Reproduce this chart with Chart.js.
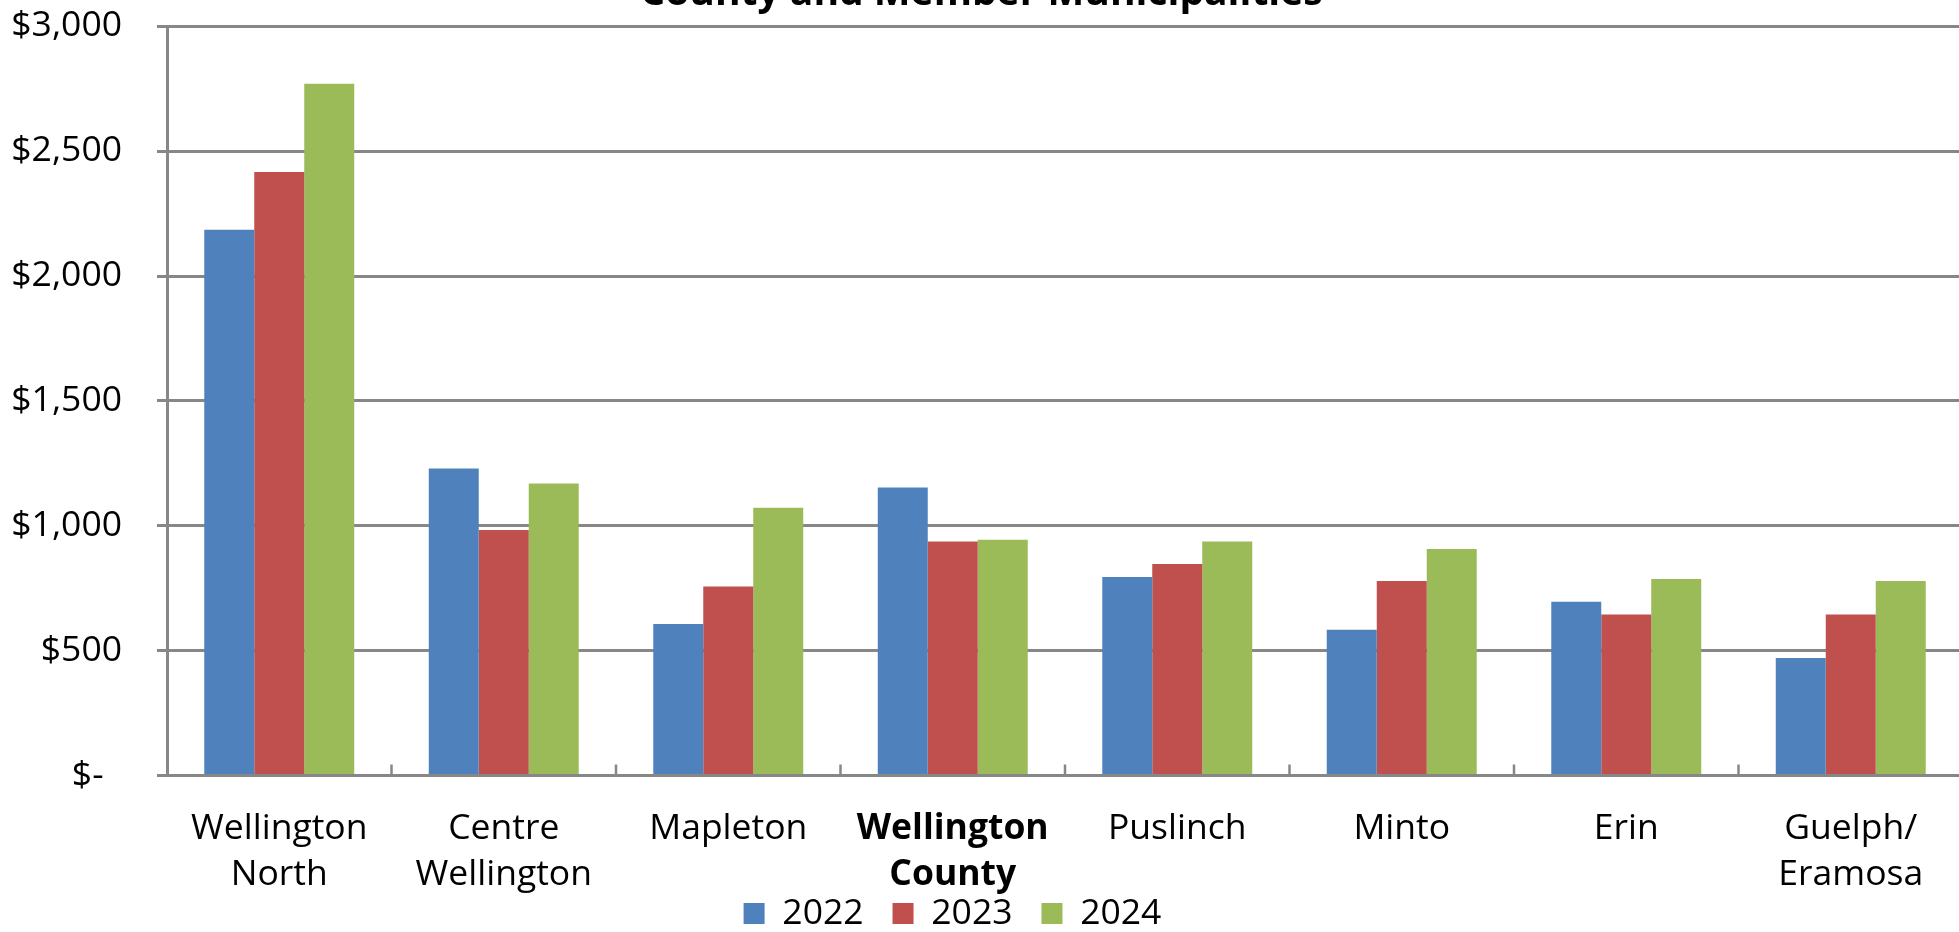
<!DOCTYPE html>
<html>
<head>
<meta charset="utf-8">
<script src="https://cdn.jsdelivr.net/npm/chart.js@4/dist/chart.umd.min.js"></script>
<style>
  html, body { margin: 0; padding: 0; background: #ffffff; overflow: hidden; width: 1959px; height: 932px; }
  #wrap { position: absolute; left: 0; top: -30px; width: 1968px; height: 1010px; }
</style>
</head>
<body>
<div id="wrap"><canvas id="chart" width="1968" height="1010"></canvas></div>
<script>
// Municipalities compared, one group of bars per category
const categories = [
  ['Wellington', 'North'],
  ['Centre', 'Wellington'],
  'Mapleton',
  ['Wellington', 'County'],
  'Puslinch',
  'Minto',
  'Erin',
  ['Guelph/', 'Eramosa']
];

// Yearly amounts in dollars
const years = ['2022', '2023', '2024'];
const values2022 = [2185, 1229, 607, 1153, 795, 584, 696, 471];
const values2023 = [2417, 983, 757, 937, 847, 779, 645, 645];
const values2024 = [2770, 1169, 1072, 944, 937, 907, 787, 779];

// Value axis ticks
const yTicks = [0, 500, 1000, 1500, 2000, 2500, 3000];

const boldCategoryIndex = 3;
const titleText = 'County and Member Municipalities';

const seriesColors = ['#4F81BD', '#C0504D', '#9BBB59'];
const axisGray = '#878787';
const FONT = '"Open Sans", "DejaVu Sans", sans-serif';
const LABEL_SIZE = 35.5;

// Small upward tick marks on the category axis, between groups
const innerCategoryTicks = {
  id: 'innerCategoryTicks',
  afterDatasetsDraw(chart) {
    const x = chart.scales.x;
    const ctx = chart.ctx;
    ctx.save();
    ctx.strokeStyle = axisGray;
    ctx.lineWidth = 2.5;
    for (let i = 1; i < categories.length; i++) {
      const px = (x.getPixelForValue(i - 1) + x.getPixelForValue(i)) / 2;
      ctx.beginPath();
      ctx.moveTo(px, x.top - 11);
      ctx.lineTo(px, x.top);
      ctx.stroke();
    }
    ctx.restore();
  }
};

// Tuck the legend row up under the category labels, slightly left of centre
const legendOffset = {
  id: 'legendOffset',
  afterLayout(chart) {
    const dx = -29, dy = -38.75;
    const lg = chart.legend;
    if (lg) {
      lg.left += dx; lg.right += dx;
      lg.top += dy; lg.bottom += dy;
    }
  }
};

new Chart(document.getElementById('chart'), {
  type: 'bar',
  data: {
    labels: categories,
    datasets: [
      { label: years[0], data: values2022, backgroundColor: seriesColors[0] },
      { label: years[1], data: values2023, backgroundColor: seriesColors[1] },
      { label: years[2], data: values2024, backgroundColor: seriesColors[2] }
    ]
  },
  options: {
    responsive: false,
    animation: false,
    devicePixelRatio: 1,
    layout: { padding: { left: 0, right: 5, top: 0, bottom: 0 } },
    datasets: {
      bar: { categoryPercentage: 0.668, barPercentage: 1.0, borderWidth: 0 }
    },
    plugins: {
      title: {
        display: true,
        text: titleText,
        color: '#000000',
        font: { family: FONT, size: 39, weight: 'bold' },
        padding: { top: 0, bottom: 8.8 }
      },
      legend: {
        display: true,
        position: 'bottom',
        labels: {
          color: '#000000',
          font: { family: FONT, size: LABEL_SIZE },
          boxWidth: 21,
          boxHeight: 21,
          padding: 29
        }
      },
      tooltip: { enabled: false }
    },
    scales: {
      x: {
        grid: { display: false, drawTicks: false },
        border: { display: true, color: axisGray, width: 3 },
        ticks: {
          color: '#000000',
          padding: 30.5,
          maxRotation: 0,
          autoSkip: false,
          font: (c) => ({
            family: FONT,
            size: LABEL_SIZE,
            lineHeight: 46 / LABEL_SIZE,
            weight: c.index === boldCategoryIndex ? 'bold' : 'normal'
          })
        },
        afterFit(scale) { scale.height = 130; }
      },
      y: {
        min: yTicks[0],
        max: yTicks[yTicks.length - 1],
        afterBuildTicks(scale) { scale.ticks = yTicks.map(v => ({ value: v })); },
        grid: { color: axisGray, lineWidth: 3, tickLength: 10, drawTicks: true },
        border: { display: true, color: axisGray, width: 3 },
        ticks: {
          color: '#000000',
          padding: 35,
          font: { family: FONT, size: LABEL_SIZE },
          callback: (v) => v === 0 ? '$-  ' : '$' + Number(v).toLocaleString('en-US')
        },
        afterFit(scale) { scale.width = 167; }
      }
    }
  },
  plugins: [innerCategoryTicks, legendOffset]
});
</script>
</body>
</html>
